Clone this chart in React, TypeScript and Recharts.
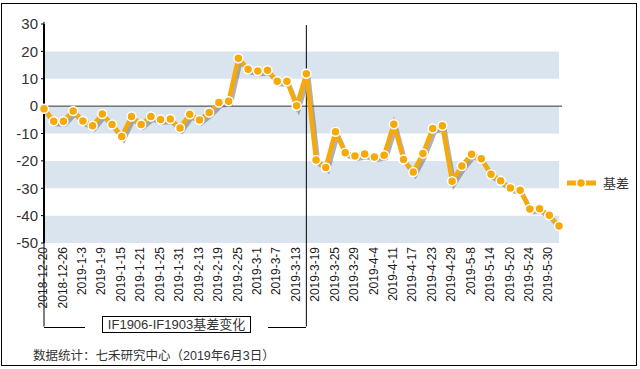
import {
  LineChart,
  Line,
  XAxis,
  YAxis,
  Legend,
  ReferenceArea,
  ReferenceLine,
} from "recharts";

const dates = [
  "2018-12-20", "2018-12-24", "2018-12-26", "2018-12-28", "2019-1-3", "2019-1-7",
  "2019-1-9", "2019-1-11", "2019-1-15", "2019-1-17", "2019-1-21", "2019-1-23",
  "2019-1-25", "2019-1-29", "2019-1-31", "2019-2-11", "2019-2-13", "2019-2-15",
  "2019-2-19", "2019-2-21", "2019-2-25", "2019-2-27", "2019-3-1", "2019-3-5",
  "2019-3-7", "2019-3-11", "2019-3-13", "2019-3-15", "2019-3-19", "2019-3-21",
  "2019-3-25", "2019-3-27", "2019-3-29", "2019-4-2", "2019-4-4", "2019-4-9",
  "2019-4-11", "2019-4-15", "2019-4-17", "2019-4-19", "2019-4-23", "2019-4-25",
  "2019-4-29", "2019-5-6", "2019-5-8", "2019-5-10", "2019-5-14", "2019-5-16",
  "2019-5-20", "2019-5-22", "2019-5-24", "2019-5-28", "2019-5-30", "2019-5-31",
];

const basis = [
  -1, -5.5, -5.5, -1.8, -5.4, -7.2, -2.9, -6.7, -11.1, -3.8, -6.7, -3.8,
  -4.9, -4.7, -8, -3, -5.1, -2.3, 1.3, 1.8, 17.5, 13.5, 12.8, 13.1,
  9.1, 9.1, 0.1, 11.8, -19.7, -22.4, -9.4, -17, -18.2, -17.5, -18.6, -17.9,
  -6.6, -19.5, -24.1, -17.3, -8.2, -7.2, -27.4, -21.9, -17.6, -19.2, -24.9, -27.3,
  -29.9, -30.7, -37.6, -37.5, -39.9, -43.8,
];

const yTicks = [30, 20, 10, 0, -10, -20, -30, -40, -50];
// shaded bands [from, to]
const bands = [
  [10, 20],
  [-10, 0],
  [-30, -20],
  [-50, -40],
];

const seriesName = "基差";
const boxLabel = "IF1906-IF1903基差变化";
const sourceNote = "数据统计：七禾研究中心（2019年6月3日）";

const data = dates.map((d, i) => ({ date: d, basis: basis[i] }));

const ORANGE = "#f5a90a";
const BAND = "#dae4ef";
const LATIN = "'Liberation Sans', Arial, sans-serif";
const CJK = "'Liberation Sans', 'Noto Sans CJK SC', sans-serif";

const DateTick = (props: any) => {
  const { x, y, payload } = props;
  return (
    <text
      x={x - 1}
      y={y}
      transform={`rotate(-90, ${x - 1}, ${y})`}
      textAnchor="end"
      dy="0.35em"
      fontSize={12}
      fontFamily={LATIN}
      fill="#1a1a1a"
    >
      {payload.value}
    </text>
  );
};

const LegendBox = () => (
  <svg width={72} height={20} style={{ display: "block" }}>
    <line x1={2} x2={31} y1={10} y2={10} stroke={ORANGE} strokeWidth={5} />
    <circle cx={16} cy={10} r={4.5} fill={ORANGE} stroke="#fff" strokeWidth={1.5} />
    <text x={38} y={10} dy="0.36em" fontSize={13} fontFamily={CJK} fill="#333">
      {seriesName}
    </text>
  </svg>
);

const App = () => {
  return (
    <div style={{ position: "relative", width: 640, height: 369 }}>
      <style>{`
        body { margin: 0; }
        .basis-line .recharts-line-curve { filter: drop-shadow(2px 3px 0px rgba(100,100,100,0.5)); }
      `}</style>
      <LineChart
        width={640}
        height={369}
        data={data}
        margin={{ top: 24, right: 78, left: 0, bottom: 0 }}
      >
        {bands.map(([a, b]) => (
          <ReferenceArea
            key={a}
            y1={a}
            y2={b}
            fill={BAND}
            fillOpacity={1}
            stroke="none"
          />
        ))}
        <ReferenceLine y={0} stroke="#333" strokeWidth={1} />
        <ReferenceLine
          ifOverflow="visible"
          segment={[
            { x: dates[0], y: 30.8 },
            { x: dates[0], y: -80.5 },
          ]}
          stroke="#000"
          strokeWidth={1}
        />
        <ReferenceLine
          ifOverflow="visible"
          segment={[
            { x: dates[27], y: 29.6 },
            { x: dates[27], y: -80.5 },
          ]}
          stroke="#000"
          strokeWidth={1}
        />
        <XAxis
          dataKey="date"
          interval={1}
          height={126}
          tickSize={0}
          tickMargin={4}
          axisLine={false}
          tickLine={false}
          padding={{ left: 0, right: 3 }}
          tick={<DateTick />}
        />
        <YAxis
          width={44}
          domain={[-50, 30]}
          ticks={yTicks}
          interval={0}
          tickSize={3}
          tickMargin={3}
          axisLine={{ stroke: "#000", strokeWidth: 2 }}
          tickLine={{ stroke: "#000" }}
          tick={{ fontSize: 15, fill: "#333", fontFamily: LATIN }}
        />
        <Legend
          layout="vertical"
          align="center"
          verticalAlign="middle"
          wrapperStyle={{ left: 565, top: 173, width: 72 }}
          content={() => <LegendBox />}
        />
        <Line
          className="basis-line"
          type="linear"
          dataKey="basis"
          name={seriesName}
          stroke={ORANGE}
          strokeWidth={4.5}
          dot={{ r: 4.5, fill: ORANGE, stroke: "#fff", strokeWidth: 1.5 }}
          activeDot={false}
          isAnimationActive={false}
        />
      </LineChart>

      {/* bracket connectors and label box */}
      <div style={{ position: "absolute", left: 44, top: 327, width: 41, height: 1, background: "#000" }} />
      <div style={{ position: "absolute", left: 268, top: 327, width: 38, height: 1, background: "#000" }} />
      <div
        style={{
          position: "absolute",
          left: 102,
          top: 316,
          width: 149,
          height: 17,
          boxSizing: "border-box",
          border: "1px solid #000",
          fontFamily: CJK,
          fontSize: 13,
          lineHeight: "15px",
          textAlign: "center",
          color: "#333",
          background: "#fff",
        }}
      >
        {boxLabel}
      </div>
      <div
        style={{
          position: "absolute",
          left: 33,
          top: 348,
          fontFamily: CJK,
          fontSize: 12.5,
          lineHeight: "16px",
          color: "#333",
          whiteSpace: "nowrap",
        }}
      >
        {sourceNote}
      </div>
      {/* outer frame */}
      <div
        style={{
          position: "absolute",
          left: 1,
          top: 3,
          width: 636,
          height: 363,
          boxSizing: "border-box",
          border: "1px solid #000",
          pointerEvents: "none",
        }}
      />
    </div>
  );
};

export default App;
